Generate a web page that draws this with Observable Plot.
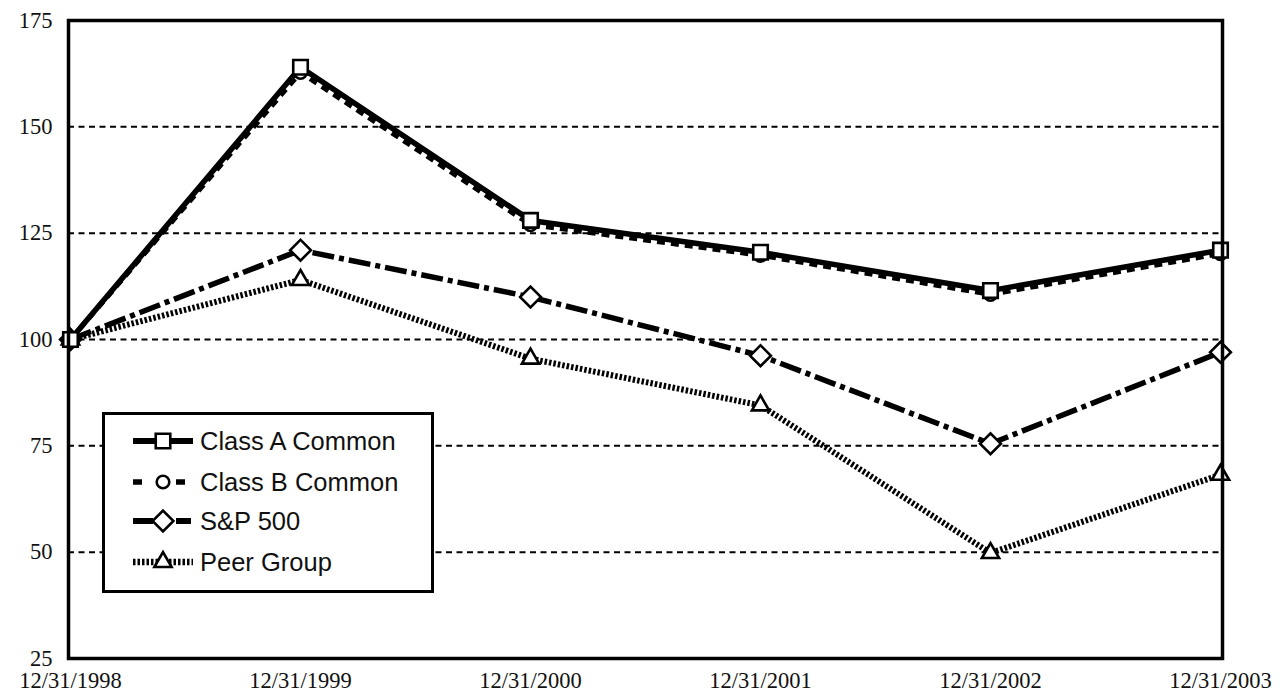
<!DOCTYPE html>
<html>
<head>
<meta charset="utf-8">
<script src="https://cdn.jsdelivr.net/npm/d3@7"></script>
<script src="https://cdn.jsdelivr.net/npm/@observablehq/plot@0.6"></script>
<style>
  body { margin: 0; background: #fff; }
  #wrap { position: relative; width: 1284px; height: 696px; }
  #legend {
    position: absolute; left: 102px; top: 412px; width: 326px; height: 175px;
    border: 3px solid #000; background: #fff; box-sizing: content-box;
    font-family: "Liberation Sans", Arial, sans-serif; font-size: 25.5px; color: #111;
  }
  .row { position: absolute; left: 28px; height: 30px; display: flex; align-items: center; }
  .row svg { display: block; margin-right: 7px; }
</style>
</head>
<body>
<div id="wrap"><div id="legend"></div></div>
<script>
const dates = ["12/31/1998", "12/31/1999", "12/31/2000", "12/31/2001", "12/31/2002", "12/31/2003"];
const classA = [100, 164, 128, 120.5, 111.5, 121];
const classB = [100, 162.8, 127, 119.8, 110.6, 120.2];
const sp500 = [100, 121, 110, 96.2, 75.5, 97];
const peer = [100, 114, 95.5, 84.5, 49.8, 68.2];
const seriesNames = ["Class A Common", "Class B Common", "S&P 500", "Peer Group"];
const yTicks = [25, 50, 75, 100, 125, 150, 175];
const gridValues = [50, 75, 100, 125, 150];

const styles = {
  "Class A Common": {dash: null, width: 5.5, symbol: "square", r: 8.2, rotate: 0, legendDash: null},
  "Class B Common": {dash: "8,6", width: 5, symbol: "circle", r: 6.3, rotate: 0, legendDash: "9,34,9,100"},
  "S&P 500": {dash: "22,5,5,5", width: 5.5, symbol: "square", r: 8.3, rotate: 45, legendDash: "20,23,15,100"},
  "Peer Group": {dash: "2.5,2", width: 6, symbol: "triangle", r: 6.4, rotate: 0, legendDash: "2.5,2"}
};

const seriesValues = [classA, classB, sp500, peer];
const rows = [];
seriesNames.forEach((name, i) => {
  dates.forEach((d, j) => rows.push({series: name, date: d, value: seriesValues[i][j]}));
});

const drawOrder = ["Peer Group", "S&P 500", "Class B Common", "Class A Common"];
const marks = [
  Plot.ruleY(gridValues, {stroke: "#000", strokeWidth: 2, strokeDasharray: "6,4.5"})
];
for (const name of drawOrder) {
  const s = styles[name];
  const data = rows.filter(r => r.series === name);
  marks.push(Plot.line(data, {
    x: "date", y: "value", stroke: "#000", strokeWidth: s.width,
    strokeDasharray: s.dash, strokeLinejoin: "miter", strokeLinecap: "butt"
  }));
}
for (const name of drawOrder) {
  const s = styles[name];
  const data = rows.filter(r => r.series === name);
  marks.push(Plot.dot(data, {
    x: "date", y: "value", symbol: () => s.symbol, r: s.r, rotate: s.rotate,
    fill: "#fff", stroke: "#000", strokeWidth: 2.6
  }));
}
marks.push(Plot.frame({stroke: "#000", strokeWidth: 3.5}));
marks.push(Plot.axisY({ticks: yTicks, tickSize: 0, tickPadding: 16, label: null}));
marks.push(Plot.axisX({tickSize: 0, tickPadding: 14, label: null}));

const chart = Plot.plot({
  width: 1284,
  height: 696,
  marginLeft: 68,
  marginRight: 62,
  marginTop: 20,
  marginBottom: 38,
  style: {fontFamily: "'Liberation Serif', 'Times New Roman', serif", fontSize: "22.5px", color: "#111", background: "#fff", overflow: "visible"},
  x: {type: "point", domain: dates, padding: 0, label: null},
  y: {domain: [25, 175], label: null},
  symbol: {type: "identity"},
  marks
});
const wrap = document.getElementById("wrap");
wrap.insertBefore(chart, wrap.firstChild);

// Legend
const legend = document.getElementById("legend");
const rowTops = [11, 52, 91, 132];
const symbolMap = {square: d3.symbolSquare, circle: d3.symbolCircle, triangle: d3.symbolTriangle};
seriesNames.forEach((name, i) => {
  const s = styles[name];
  const row = document.createElement("div");
  row.className = "row";
  row.style.top = rowTops[i] + "px";
  const ns = "http://www.w3.org/2000/svg";
  const svg = document.createElementNS(ns, "svg");
  svg.setAttribute("width", 60);
  svg.setAttribute("height", 30);
  const line = document.createElementNS(ns, "line");
  line.setAttribute("x1", 0); line.setAttribute("x2", 60);
  line.setAttribute("y1", 15); line.setAttribute("y2", 15);
  line.setAttribute("stroke", "#000");
  line.setAttribute("stroke-width", s.width + 0.5);
  if (s.legendDash) line.setAttribute("stroke-dasharray", s.legendDash);
  svg.appendChild(line);
  const path = document.createElementNS(ns, "path");
  path.setAttribute("d", d3.symbol(symbolMap[s.symbol], Math.PI * s.r * s.r)());
  path.setAttribute("transform", `translate(30,15) rotate(${s.rotate})`);
  path.setAttribute("fill", "#fff");
  path.setAttribute("stroke", "#000");
  path.setAttribute("stroke-width", 2.6);
  svg.appendChild(path);
  row.appendChild(svg);
  const label = document.createElement("span");
  label.textContent = name;
  row.appendChild(label);
  legend.appendChild(row);
});
</script>
</body>
</html>
